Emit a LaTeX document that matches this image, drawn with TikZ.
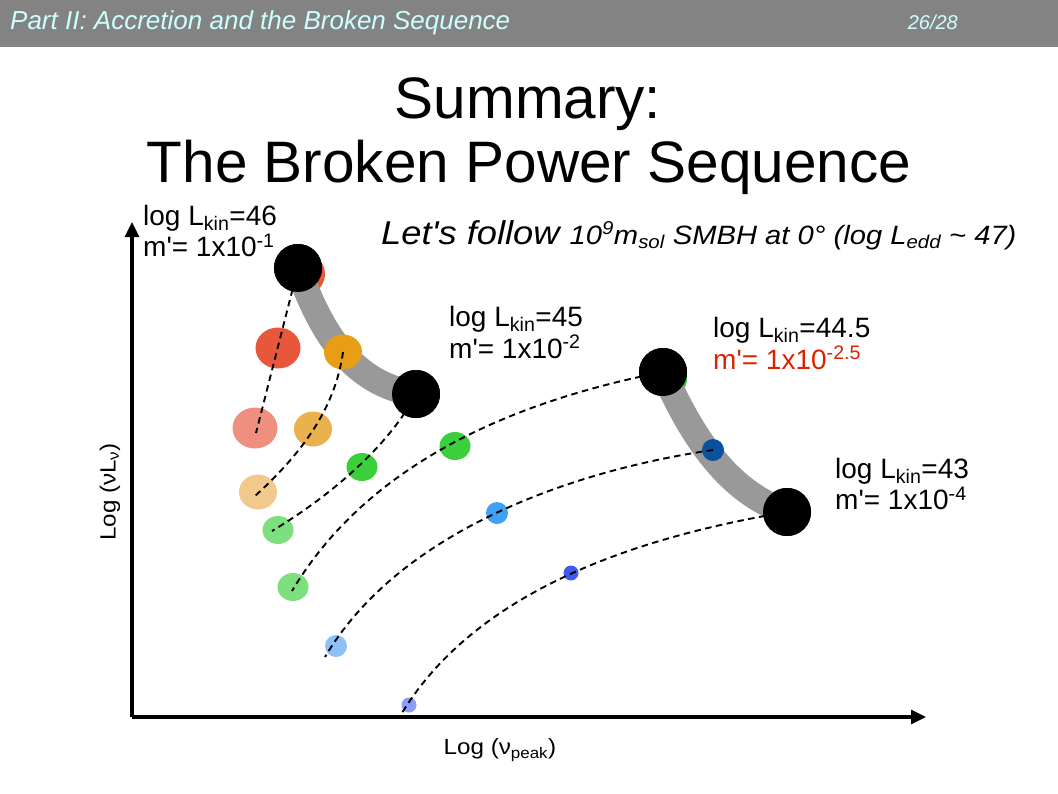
\documentclass[tikz,border=0pt]{standalone}
\usepackage{fontspec}
\setmainfont{Liberation Sans}[Ligatures=TeXOff]
\newfontfamily\wideFont{Liberation Sans}[FakeStretch=1.1,Ligatures=TeXOff]
\newfontfamily\axisFont{Liberation Sans}[FakeStretch=1.1,Ligatures=TeXOff]
\usetikzlibrary{arrows.meta,shapes.geometric,calc}
\definecolor{hdrGrey}{HTML}{838383}
\definecolor{hdrText}{HTML}{CCFFFF}
\definecolor{bandGrey}{HTML}{999999}
\definecolor{mColor}{HTML}{DD2200}
\definecolor{redC}{HTML}{E8573A}
\definecolor{salmonC}{HTML}{EE8F7F}
\definecolor{orangeC}{HTML}{E89D17}
\definecolor{lorangeC}{HTML}{EAB14F}
\definecolor{beigeC}{HTML}{F2C98C}
\definecolor{greenC}{HTML}{3CCF3C}
\definecolor{lgreenC}{HTML}{7EDF7E}
\definecolor{dblueC}{HTML}{0A52A0}
\definecolor{blueC}{HTML}{3FA0F5}
\definecolor{lblueC}{HTML}{8EC0FA}
\definecolor{sblueC}{HTML}{3C5CF0}
\definecolor{periC}{HTML}{8C9CF7}
\newcommand{\Lk}{L\textsubscript{kin}}
\newcommand{\mval}[1]{m'= 1x10\textsuperscript{#1}}

\begin{document}
\begin{tikzpicture}[x=1pt,y=-1pt,
		bh/.style={circle,fill=black,inner sep=0,minimum size=48},
		dot/.style={ellipse,inner sep=0,draw=none},
		big/.style={dot,minimum width=45,minimum height=41},
		mid/.style={dot,minimum width=38,minimum height=35},
		sml/.style={dot,minimum width=31,minimum height=28},
		tny/.style={dot,minimum width=22,minimum height=22},
		dotlet/.style={dot,minimum width=15,minimum height=15},
		band/.style={line width=26pt,bandGrey},
		track/.style={line width=1.9pt,dash pattern=on 6.5pt off 4.5pt},
		axis/.style={line width=3.2pt,-{Triangle[length=15pt,width=14pt]}},
		lbl/.style={anchor=base west,inner sep=0,font=\fontsize{28}{31}\selectfont}]
	\useasboundingbox (0,0) rectangle (1058,793);
	\fill[hdrGrey] (0,0) rectangle (1058,47);
	\node[anchor=base west, inner sep=0, text=hdrText, font=\itshape\fontsize{26}{30}\selectfont] (hdr) at (10,29.5) {Part II: Accretion and the Broken Sequence};
	\node[anchor=base east, inner sep=0, text=hdrText, font=\itshape\fontsize{20}{24}\selectfont] (pg) at (958,29.5) {26/28};
	
	\node[anchor=base, inner sep=0, font=\fontsize{58.5}{64}\selectfont] (t1) at (528,118) {Summary:};
	\node[anchor=base, inner sep=0, font=\fontsize{58.5}{64}\selectfont] (t2) at (529,182) {The Broken Power Sequence};
	
	% hidden points under the big ones
	\node[dot, fill=redC, minimum size=42] (h1) at (304,274) {};
	\node[dot, fill=greenC, minimum size=36] (h3) at (669,379) {};
	\node[bh] (b1) at (298,268) {};
	\node[bh] (b2) at (416,394) {};
	\node[bh] (b3) at (663,372) {};
	\node[bh] (b4) at (787,512) {};
	\draw[band] (b1.center) .. controls (325,345) and (360,385) .. (b2.center);
	\draw[band] (b3.center) .. controls (685,420) and (720,490) .. (b4.center);
	
	\node[big, fill=redC] (r1) at (278,348) {};
	\node[big, fill=salmonC] (r2) at (255,428) {};
	\node[mid, fill=orangeC] (o1) at (343,352) {};
	\node[mid, fill=lorangeC] (o2) at (313,429) {};
	\node[mid, fill=beigeC] (o3) at (258,492) {};
	\node[sml, fill=greenC] (g1) at (362,467) {};
	\node[sml, fill=lgreenC] (g2) at (278,530) {};
	\node[sml, fill=greenC] (g3) at (455,446) {};
	\node[sml, fill=lgreenC] (g4) at (293,587) {};
	\node[tny, fill=dblueC] (u1) at (713,450) {};
	\node[tny, fill=blueC] (u2) at (497,513) {};
	\node[tny, fill=lblueC] (u3) at (336,646) {};
	\node[dotlet, fill=sblueC] (s1) at (571,573) {};
	\node[dotlet, fill=periC] (s2) at (409,705) {};
	
	\coordinate (eA) at (256,433);
	\coordinate (eB) at (255,496);
	\coordinate (eC) at (272,531);
	\coordinate (eD) at (292,591);
	\coordinate (eE) at (325,657);
	\coordinate (eF) at (402,713);
	\draw[track] (b1.center) -- (eA);
	\draw[track] (o1.center) .. controls (335,410) and (300,455) .. (eB);
	\draw[track] (b2.center) .. controls (392,440) and (340,490) .. (eC);
	\draw[track] (b3.center) .. controls (520,400) and (370,460) .. (eD);
	\draw[track] (u1.center) .. controls (575,470) and (400,530) .. (eE);
	\draw[track] (b4.center) .. controls (650,535) and (480,585) .. (eF);
	
	% the big ones again, on top
	\foreach \n/\p in {b1/{(298,268)},b2/{(416,394)},b3/{(663,372)},b4/{(787,512)}}
		\node[bh] (\n) at \p {};
	
	\node[lbl] (l46) at (143,225) {\begin{tabular}[t]{@{}l@{}} log \Lk=46\\ \mval{-1} \end{tabular}};
	\node[lbl] (l45) at (449,326) {\begin{tabular}[t]{@{}l@{}} log \Lk=45\\ \mval{-2} \end{tabular}};
	\node[lbl] (l445) at (713,337) {\begin{tabular}[t]{@{}l@{}} log \Lk=44.5\\ \textcolor{mColor}{\mval{-2.5}} \end{tabular}};
	\node[lbl] (l43) at (835,478) {\begin{tabular}[t]{@{}l@{}} log \Lk=43\\ \mval{-4} \end{tabular}};
	
	\node[anchor=base west, inner sep=0, font=\wideFont\itshape\fontsize{33}{38}\selectfont] (fol) at (381,244) {Let's follow {\fontsize{26.5}{30}\selectfont 10\textsuperscript{9}m\textsubscript{sol} SMBH at 0° (log L\textsubscript{edd} \textasciitilde{} 47)}};
	
	\coordinate (o) at (132,717);
	\draw[axis] (o) -- (132,222) coordinate (ytop);
	\draw[axis] (o) -- (926,717) coordinate (xend);
	\node[rotate=90, font=\axisFont\fontsize{22}{26}\selectfont] (ylab) at (110,492) {Log (νL\textsubscript{ν})};
	\node[anchor=base, inner sep=0, font=\axisFont\fontsize{22}{26}\selectfont] (xlab) at (500,754) {Log (ν\textsubscript{peak})};
\end{tikzpicture}
\end{document}
